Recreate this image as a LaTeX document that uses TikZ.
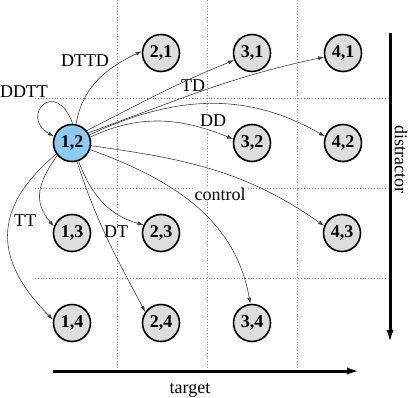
\documentclass[tikz,border=0pt]{standalone}
\usepackage{fontspec}
\setmainfont{Liberation Serif}
\usetikzlibrary{arrows.meta}
\definecolor{stateblue}{RGB}{140,202,238}
\definecolor{stategray}{RGB}{221,221,221}
\tikzset{
      statenode/.style={
        circle,
        draw=black,
        line width=1.6pt,
        fill=stategray,
        minimum size=37pt,
        inner sep=0pt,
        font=\fontsize{18}{20}\selectfont\bfseries
      },
      startnode/.style={statenode, fill=stateblue},
      trans/.style={-{Latex[length=6pt,width=4pt]}, draw=black!75, line width=0.6pt},
      translabel/.style={fill=white, inner sep=0.5pt},
      gridline/.style={draw=black!45, dotted, line width=0.8pt},
      axisarrow/.style={-{Latex[length=14pt,width=7pt]}, line width=3pt}
    }
\begin{document}
\begin{tikzpicture}[x=1pt,y=1pt,font=\fontsize{18}{20}\selectfont]
    \useasboundingbox (0,0) rectangle (414,397);
    % dotted grid
    \draw[gridline] (117,397) -- (117,29);
    \draw[gridline] (207,397) -- (207,29);
    \draw[gridline] (297,397) -- (297,29);
    \draw[gridline] (35,299) -- (387,299);
    \draw[gridline] (35,209) -- (387,209);
    \draw[gridline] (35,119) -- (387,119);
    % states
    \node[startnode] (s12) at (72,254) {1,2};
    \node[statenode] (s21) at (161,344) {2,1};
    \node[statenode] (s31) at (252,344) {3,1};
    \node[statenode] (s41) at (343,344) {4,1};
    \node[statenode] (s32) at (252,254) {3,2};
    \node[statenode] (s42) at (343,254) {4,2};
    \node[statenode] (s13) at (72,164) {1,3};
    \node[statenode] (s23) at (161,164) {2,3};
    \node[statenode] (s43) at (342,164) {4,3};
    \node[statenode] (s14) at (72,74) {1,4};
    \node[statenode] (s24) at (161,74) {2,4};
    \node[statenode] (s34) at (252,74) {3,4};
    % labels
    \node[translabel] (lddtt) at (24,305) {DDTT};
    \node[translabel] (ldttd) at (85,336) {DTTD};
    \node[translabel] (ltd) at (193,311) {TD};
    \node[translabel] (ldd) at (213,276) {DD};
    \node[translabel] (lctrl) at (220,203) {control};
    \node[translabel] (ldt) at (116,165) {DT};
    \node[translabel] (ltt) at (25,176) {TT};
    % transitions
    \draw[trans] (s12.88) .. controls +(110:50) and +(150:40) .. (s12.160);
    \draw[trans] (s12.78) to[out=80,in=205] (s21.175);
    \draw[trans] (s12.40) to[out=27,in=202] (s31.202);
    \draw[trans] (s12.32) to[out=20,in=192] (s41.192);
    \draw[trans] (s12.25) to[out=25,in=150] (s42.160);
    \draw[trans] (s12.18) to[out=25,in=158] (s32.168);
    \draw[trans] (s12.-8) to[out=-8,in=145] (s43.158);
    \draw[trans] (s12.-20) to[out=-20,in=100] (s34.95);
    \draw[trans] (s12.-70) to[out=-70,in=165] (s23.155);
    \draw[trans] (s12.-75) to[out=-72,in=118] (s24.145);
    \draw[trans] (s12.220) to[out=235,in=130,looseness=1.2] (s13.160);
    \draw[trans] (s12.215) to[out=220,in=135,looseness=1.3] (s14.170);
    % axes
    \coordinate (dtop) at (390,364);
    \coordinate (dbot) at (390,53);
    \coordinate (tleft) at (53,26);
    \coordinate (tright) at (361,26);
    \draw[axisarrow] (dtop) -- (dbot);
    \draw[axisarrow] (tleft) -- (tright);
    \node[rotate=-90] (ldist) at (401,238) {distractor};
    \node[anchor=base] (ltarget) at (190,4) {target};
    \end{tikzpicture}
\end{document}
